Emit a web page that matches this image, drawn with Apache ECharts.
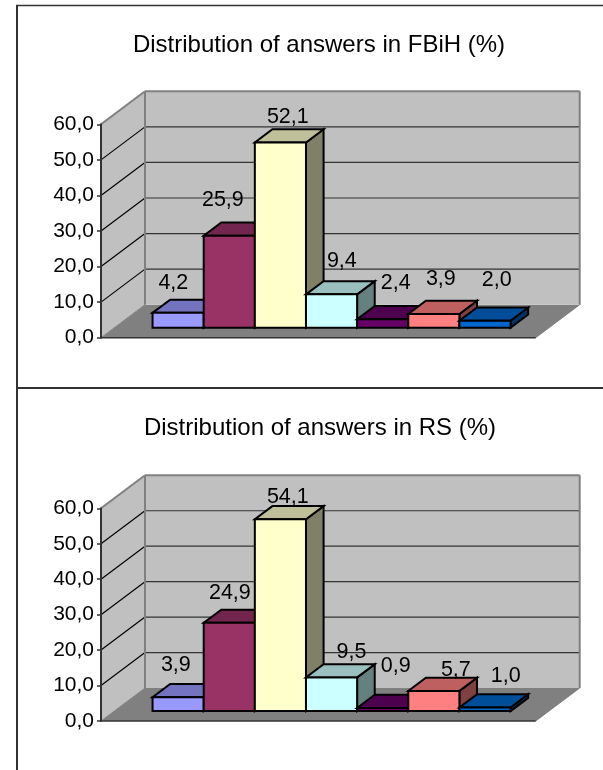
<!DOCTYPE html>
<html><head><meta charset="utf-8">
<style>html,body{margin:0;padding:0;background:#fff}#c{width:603px;height:770px}</style>
<script src="https://cdn.jsdelivr.net/npm/echarts@6/dist/echarts.min.js"></script>
</head><body><div id="c"></div>
<script>
const titleFBiH = 'Distribution of answers in FBiH (%)';
const titleRS = 'Distribution of answers in RS (%)';
const valuesFBiH = [4.2, 25.9, 52.1, 9.4, 2.4, 3.9, 2.0];
const valuesRS = [3.9, 24.9, 54.1, 9.5, 0.9, 5.7, 1.0];
const yTicks = [0, 10, 20, 30, 40, 50, 60];
const barColors = ['#9999FF','#993366','#FFFFCC','#CCFFFF','#660066','#FF8080','#0066CC'];

// presentation: label nudges (px) from the front-top centre of each bar
const labelNudgeFBiH = [[-4.8,-30],[-6.4,-36],[7.4,-25.5],[10.3,-33.5],[13.1,-36.5],[7,-35],[11.8,-41]];
const labelNudgeRS = [[-2.3,-32],[0.6,-30],[7.4,-22.5],[20,-25.5],[13.1,-42],[22,-21],[20.8,-31]];
const DEPTH = [44, -33];
const BAR_D0 = 0.3, BAR_D1 = 0.7;
const FONT = '"Liberation Sans", Arial, sans-serif';

const shade = (hex, k) => {
  const n = parseInt(hex.slice(1), 16);
  return 'rgb(' + [(n>>16)&255, (n>>8)&255, n&255].map(c => Math.round(c*k)).join(',') + ')';
};
const fmt = v => v.toFixed(1).replace('.', ',');
const xMin = -0.75, xMax = 7.75;

function project(api, x, v, d) {
  const p = api.coord([x, v]);
  return [p[0] + d*DEPTH[0], p[1] + d*DEPTH[1]];
}
function poly(points, fill, stroke, lw) {
  return {type:'polygon', shape:{points}, style:{fill, stroke: stroke||'none', lineWidth: lw||0, lineJoin:'miter'}};
}
function seg(a, b, stroke, lw) {
  return {type:'line', shape:{x1:a[0],y1:a[1],x2:b[0],y2:b[1]}, style:{stroke, lineWidth:lw}};
}
function wallsRender(params, api) {
  const P = (x,v,d) => project(api,x,v,d);
  const kids = [];
  kids.push(poly([P(xMin,0,0),P(xMax,0,0),P(xMax,0,1),P(xMin,0,1)], '#808080'));
  kids.push(poly([P(xMin,0,1),P(xMax,0,1),P(xMax,60,1),P(xMin,60,1)], '#C0C0C0'));
  kids.push(poly([P(xMin,0,0),P(xMin,0,1),P(xMin,60,1),P(xMin,60,0)], '#C0C0C0'));
  yTicks.forEach(t => {
    if (t === 0 || t === 60) return;
    kids.push(seg(P(xMin,t,0),P(xMin,t,1),'#000000',1.2));
    kids.push(seg(P(xMin,t,1),P(xMax,t,1),'#333333',1.2));
  });
  kids.push(seg(P(xMin,60,0),P(xMin,60,1),'#808080',2));
  kids.push(seg(P(xMin,60,1),P(xMax,60,1),'#808080',2));
  kids.push(seg(P(xMax,60,1),P(xMax,0,1),'#808080',2));
  kids.push(seg(P(xMin,60,1),P(xMin,0,1),'#808080',2));
  kids.push(seg(P(xMin,0,1),P(xMin,0,0),'#808080',1));
  kids.push(seg(P(xMax,0,0),P(xMax,0,1),'#808080',1));
  kids.push(seg(P(xMin,0,0),P(xMax,0,0),'#333333',1.5));
  return {type:'group', children:kids};
}
function barRender(params, api) {
  const i = params.dataIndex, v = api.value(1), c = barColors[i];
  const P = (x,val,d) => project(api,x,val,d);
  const x0 = i, x1 = i + 1;
  const stroke = '#000', lw = 2;
  const kids = [
    poly([P(x1,0,BAR_D0),P(x1,0,BAR_D1),P(x1,v,BAR_D1),P(x1,v,BAR_D0)], shade(c,0.5), stroke, lw),
    poly([P(x0,v,BAR_D0),P(x1,v,BAR_D0),P(x1,v,BAR_D1),P(x0,v,BAR_D1)], shade(c,0.75), stroke, lw),
    poly([P(x0,0,BAR_D0),P(x1,0,BAR_D0),P(x1,v,BAR_D0),P(x0,v,BAR_D0)], c, stroke, lw)
  ];
  return {type:'group', children:kids};
}
function labelRender(nudges) {
  return function(params, api) {
    const i = params.dataIndex, v = api.value(1);
    const p = project(api, i + 0.5, v, BAR_D0);
    return {type:'text', style:{text: fmt(v), x:p[0]+nudges[i][0], y:p[1]+nudges[i][1],
      fill:'#000', font:'21.5px '+FONT, align:'center', verticalAlign:'middle'}};
  };
}
function panel(idx, values, nudges) {
  const data = values.map((v,i) => [i, v]);
  const base = {type:'custom', xAxisIndex:idx, yAxisIndex:idx, clip:false, silent:true, animation:false};
  return [
    {...base, z:1, data:[[0,0]], renderItem:wallsRender, encode:{x:0,y:1}},
    {...base, z:2, data, renderItem:barRender, encode:{x:0,y:1}},
    {...base, z:3, data, renderItem:labelRender(nudges), encode:{x:0,y:1}}
  ];
}
const grids = [
  {left:101, width:434.7, top:124.3, height:213.4},
  {left:101, width:434.7, top:508.3, height:212.7}
];
const option = {
  animation:false,
  backgroundColor:'#fff',
  title:[
    {text:titleFBiH, left:314, top:40, textAlign:'center', textVerticalAlign:'middle',
     textStyle:{fontFamily:FONT, fontSize:24, fontWeight:'normal', color:'#000'}},
    {text:titleRS, left:315, top:423, textAlign:'center', textVerticalAlign:'middle',
     textStyle:{fontFamily:FONT, fontSize:24, fontWeight:'normal', color:'#000'}}
  ],
  grid:grids,
  xAxis:[0,1].map(g => ({type:'value', gridIndex:g, min:xMin, max:xMax, show:false, splitLine:{show:false}})),
  yAxis:[0,1].map(g => ({type:'value', gridIndex:g, min:0, max:60, interval:10, z:5, position:'left',
    axisLine:{show:true, onZero:false, lineStyle:{color:'#333', width:2}},
    axisTick:{show:true, length:4, lineStyle:{color:'#333', width:1.5}},
    axisLabel:{show:true, margin:7, formatter:fmt, fontFamily:FONT, fontSize:21, color:'#000'},
    splitLine:{show:false}})),
  series:[...panel(0, valuesFBiH, labelNudgeFBiH), ...panel(1, valuesRS, labelNudgeRS)],
  graphic:[
    {type:'line', z:50, shape:{x1:17,y1:5,x2:17,y2:770}, style:{stroke:'#333',lineWidth:2}},
    {type:'line', z:50, shape:{x1:17,y1:388,x2:603,y2:388}, style:{stroke:'#333',lineWidth:2}},
    {type:'line', z:50, shape:{x1:16,y1:5.5,x2:603,y2:5.5}, style:{stroke:'#333',lineWidth:1.5}}
  ]
};
echarts.init(document.getElementById('c'), null, {renderer:'canvas'}).setOption(option);
</script></body></html>
